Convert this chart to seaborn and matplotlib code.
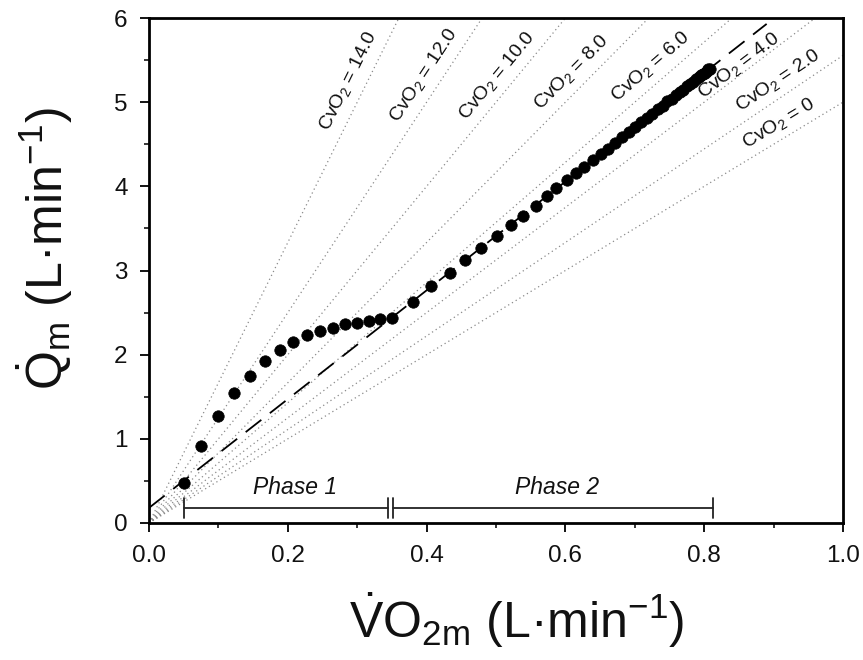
import numpy as np
import pandas as pd
import matplotlib
matplotlib.use("Agg")
import matplotlib.pyplot as plt
import seaborn as sns

# ---- data ----
vo2 = [0.051, 0.075, 0.099, 0.123, 0.146, 0.167, 0.189, 0.208, 0.228, 0.247,
       0.265, 0.283, 0.300, 0.317, 0.333, 0.350,
       0.380, 0.406, 0.434, 0.456, 0.479, 0.501, 0.521, 0.539, 0.557, 0.573,
       0.587, 0.602, 0.615, 0.627, 0.640, 0.651, 0.662,
       0.672, 0.682, 0.691, 0.700, 0.709, 0.717, 0.725, 0.733, 0.740, 0.747,
       0.753, 0.759, 0.765, 0.770, 0.775, 0.780, 0.784, 0.788, 0.792, 0.795,
       0.798, 0.801, 0.804, 0.806, 0.808]
qm = [0.48, 0.92, 1.27, 1.54, 1.75, 1.92, 2.05, 2.15, 2.23, 2.28,
      2.32, 2.36, 2.38, 2.40, 2.42, 2.44,
      2.62, 2.81, 2.97, 3.12, 3.27, 3.41, 3.54, 3.65, 3.77, 3.88,
      3.98, 4.07, 4.16, 4.23, 4.31, 4.38, 4.44,
      4.52, 4.59, 4.64, 4.70, 4.76, 4.81, 4.86, 4.92, 4.96, 5.01,
      5.04, 5.08, 5.12, 5.15, 5.19, 5.22, 5.24, 5.27, 5.30, 5.32,
      5.33, 5.35, 5.37, 5.39, 5.40]

# regression (dashed) line end points
fit_x = [0.0, 0.89]
fit_y = [0.18, 5.93]

# iso-CvO2 lines (Fick: Q = VO2 / (CaO2 - CvO2), contents in mL/100 mL)
cao2 = 20.0
cvo2 = [0, 2.0, 4.0, 6.0, 8.0, 10.0, 12.0, 14.0]
cvo2_labels = ["0", "2.0", "4.0", "6.0", "8.0", "10.0", "12.0", "14.0"]
label_x = [0.908, 0.906, 0.850, 0.722, 0.609, 0.501, 0.395, 0.287]
label_y = [4.75, 5.26, 5.44, 5.43, 5.36, 5.32, 5.32, 5.25]

# phase brackets
phase_names = ["Phase 1", "Phase 2"]
phase_start = [0.051, 0.352]
phase_end = [0.345, 0.812]
phase_text_x = [0.210, 0.588]

x_ticks = [0.0, 0.2, 0.4, 0.6, 0.8, 1.0]
y_ticks = [0, 1, 2, 3, 4, 5, 6]

# ---- style ----
sns.set_theme(style="ticks")
plt.rcParams["font.family"] = ["Liberation Sans", "DejaVu Sans"]
plt.rcParams["mathtext.fontset"] = "custom"
plt.rcParams["mathtext.rm"] = "Liberation Sans"
plt.rcParams["mathtext.it"] = "Liberation Sans:italic"
plt.rcParams["mathtext.bf"] = "Liberation Sans:bold"

fig = plt.figure(figsize=(8.63, 6.6), dpi=100)
ax = fig.add_axes([0.1727, 0.2076, 0.8041, 0.7651])
ax.set_xlim(0, 1.0)
ax.set_ylim(0, 6)

# iso-content dotted lines
xl = np.array([0.0, 1.0])
for cv, lab, tx, ty in zip(cvo2, cvo2_labels, label_x, label_y):
    slope = 100.0 / (cao2 - cv) / 1.0
    df_l = pd.DataFrame({"x": xl, "y": slope * xl})
    sns.lineplot(data=df_l, x="x", y="y", ax=ax, color="#8a8a8a",
                 linewidth=0.9, linestyle=(0, (1, 2.5)), zorder=1)
    ang = np.degrees(np.arctan(slope))
    ax.text(tx, ty, r"CvO$_2$ = " + lab, fontsize=14, ha="center", va="center",
            rotation=ang, rotation_mode="anchor", transform_rotates_text=True,
            color="#111111", zorder=4)

# regression dashed line
df_fit = pd.DataFrame({"x": fit_x, "y": fit_y})
sns.lineplot(data=df_fit, x="x", y="y", ax=ax, color="black", linewidth=1.3,
             linestyle=(0, (11, 6)), zorder=2)

# data points
df = pd.DataFrame({"VO2": vo2, "Q": qm})
sns.scatterplot(data=df, x="VO2", y="Q", ax=ax, color="black", s=68,
                edgecolor="black", linewidth=0.5, zorder=3)

# phase brackets
by = 0.174
for name, s0, s1, tx in zip(phase_names, phase_start, phase_end, phase_text_x):
    ax.plot([s0, s1], [by, by], color="#222222", lw=1.3, zorder=3)
    ax.plot([s0, s0], [0.06, 0.30], color="#222222", lw=1.3, zorder=3)
    ax.plot([s1, s1], [0.06, 0.30], color="#222222", lw=1.3, zorder=3)
    ax.text(tx, 0.42, name, fontsize=16.5, style="italic", ha="center",
            va="center", color="#111111")

# axes styling
ax.set_xticks(x_ticks)
ax.set_xticklabels([f"{v:.1f}" for v in x_ticks])
ax.set_yticks(y_ticks)
ax.set_yticklabels([str(v) for v in y_ticks])
ax.set_xticks(np.arange(0.1, 1.0, 0.2), minor=True)
ax.set_yticks(np.arange(0.5, 6.0, 1.0), minor=True)
ax.tick_params(which="major", direction="out", length=6.5, width=1.3,
               labelsize=17.5, color="black", labelcolor="#111111", pad=9)
ax.tick_params(which="minor", direction="out", length=3.6, width=1.1, color="black")
ax.tick_params(top=False, right=False, which="both")
for sp in ax.spines.values():
    sp.set_visible(True)
    sp.set_linewidth(2.0)
    sp.set_color("black")

ax.set_xlabel(r"$\dot{\mathrm{V}}\mathrm{O}_{2\mathrm{m}}$ (L·min$^{-1}$)",
              fontsize=36, va="center", color="#111111")
ax.set_ylabel(r"$\dot{\mathrm{Q}}_{\mathrm{m}}$ (L·min$^{-1}$)",
              fontsize=36, va="center", color="#111111")
ax.xaxis.set_label_coords(0.530, -0.192)
ax.yaxis.set_label_coords(-0.150, 0.543)

fig.savefig("out.png", dpi=100, facecolor="white")
